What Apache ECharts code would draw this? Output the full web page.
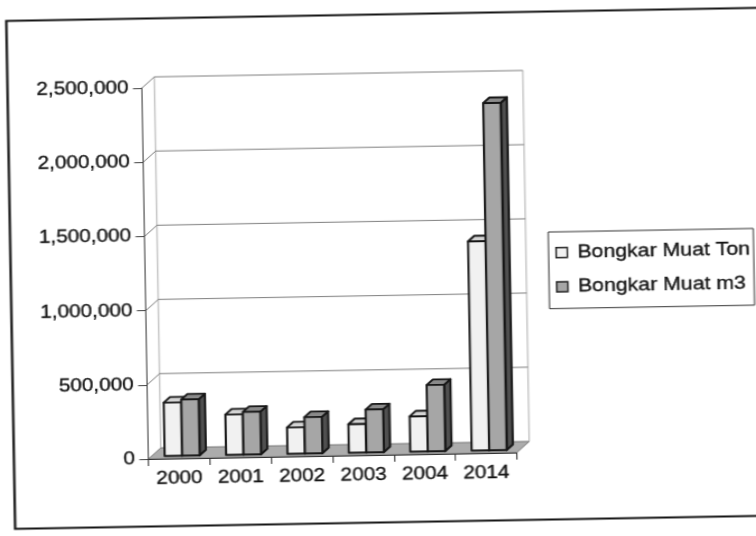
<!DOCTYPE html>
<html>
<head>
<meta charset="utf-8">
<script src="https://cdn.jsdelivr.net/npm/echarts@6/dist/echarts.min.js"></script>
<style>
  html, body { margin: 0; padding: 0; overflow: hidden; background: #fff; width: 756px; height: 536px; }
  /* the chart sheet sits slightly tilted and widened on the page */
  #chart {
    position: absolute; left: 0; top: 0; width: 720px; height: 560px;
    transform-origin: 0 0;
    transform: translate(378px, 268px) rotate(-1deg) scaleX(1.12) translate(-337.5px, -268px);
  }
</style>
</head>
<body>
<div id="chart"></div>
<script>
// Data
const years = ['2000', '2001', '2002', '2003', '2004', '2014'];
const tonValues = [360000, 272000, 178000, 192000, 238000, 1410000];
const m3Values = [378000, 287000, 245000, 289000, 447000, 2340000];
const seriesNames = ['Bongkar Muat Ton', 'Bongkar Muat m3'];
const yTicks = [0, 500000, 1000000, 1500000, 2000000, 2500000];

// 3D look: depth of the plot box and of each column (pixels)
const DEPTH_X = 11.3, DEPTH_Y = -11;
const BAR_FRAC = 0.285;
const FONT = "'Liberation Sans', Arial, sans-serif";
const OUTLINE = '#161616';
const TEXT = '#141414';

const faceColors = [
  { front: '#f1f1f1', top: '#d4d4d4', side: '#999999' },
  { front: '#a6a6a6', top: '#8a8a8a', side: '#505050' }
];

function fmt(v) {
  return String(v).replace(/\B(?=(\d{3})+(?!\d))/g, ',');
}

const labelText = {
  fontSize: 18.5, color: TEXT, fontFamily: FONT,
  textBorderColor: TEXT, textBorderWidth: 0.35
};

// floor, back wall and side wall of the 3D box
function frameRenderer(params, api) {
  const cs = params.coordSys;
  const x0 = cs.x, x1 = cs.x + cs.width;
  const y0 = api.coord([0, 0])[1];
  const yTop = api.coord([0, yTicks[yTicks.length - 1]])[1];
  const children = [];
  children.push({
    type: 'polygon',
    shape: { points: [[x0, y0], [x1, y0], [x1 + DEPTH_X, y0 + DEPTH_Y], [x0 + DEPTH_X, y0 + DEPTH_Y]] },
    style: { fill: '#acacac', stroke: '#777', lineWidth: 1 }
  });
  // back wall edges
  children.push({
    type: 'polyline',
    shape: { points: [[x0 + DEPTH_X, y0 + DEPTH_Y], [x0 + DEPTH_X, yTop + DEPTH_Y]] },
    style: { stroke: '#b0b0b0', lineWidth: 1, fill: null }
  });
  children.push({
    type: 'polyline',
    shape: { points: [[x1 + DEPTH_X, y0 + DEPTH_Y], [x1 + DEPTH_X, yTop + DEPTH_Y]] },
    style: { stroke: '#b0b0b0', lineWidth: 1, fill: null }
  });
  yTicks.forEach(function (t) {
    if (t === 0) return;
    const y = api.coord([0, t])[1];
    // gridline on the back wall
    children.push({
      type: 'line',
      shape: { x1: x0 + DEPTH_X, y1: y + DEPTH_Y, x2: x1 + DEPTH_X, y2: y + DEPTH_Y },
      style: { stroke: '#7e7e7e', lineWidth: 1 }
    });
    // gridline across the side wall
    children.push({
      type: 'line',
      shape: { x1: x0, y1: y, x2: x0 + DEPTH_X, y2: y + DEPTH_Y },
      style: { stroke: '#7e7e7e', lineWidth: 1 }
    });
  });
  return { type: 'group', children: children };
}

function barRenderer(sIdx) {
  return function (params, api) {
    const cat = api.value(0), val = api.value(1);
    const top = api.coord([cat, val]);
    const base = api.coord([cat, 0]);
    const catW = api.size([1, 0])[0];
    const bw = catW * BAR_FRAC;
    const ox = DEPTH_X * 0.25, oy = DEPTH_Y * 0.25;
    const bdx = DEPTH_X * 0.5, bdy = DEPTH_Y * 0.5;
    const xl = top[0] - bw + sIdx * bw + ox;
    const xr = xl + bw;
    const yT = top[1] + oy;
    const yB = base[1] + oy;
    const c = faceColors[sIdx];
    const st = { stroke: OUTLINE, lineWidth: 1.9, lineJoin: 'round' };
    return {
      type: 'group',
      children: [
        { type: 'polygon', shape: { points: [[xr, yT], [xr + bdx, yT + bdy], [xr + bdx, yB + bdy], [xr, yB]] },
          style: Object.assign({ fill: c.side }, st) },
        { type: 'polygon', shape: { points: [[xl, yT], [xr, yT], [xr + bdx, yT + bdy], [xl + bdx, yT + bdy]] },
          style: Object.assign({ fill: c.top }, st) },
        { type: 'rect', shape: { x: xl, y: yT, width: bw, height: yB - yT },
          style: Object.assign({ fill: c.front }, st) }
      ]
    };
  };
}

const chart = echarts.init(document.getElementById('chart'), null, { renderer: 'canvas' });

chart.setOption({
  animation: false,
  backgroundColor: 'transparent',
  textStyle: { fontFamily: FONT },
  graphic: [{
    type: 'rect', silent: true, z: -10,
    shape: { x: 9.5, y: 14.5, width: 900, height: 508 },
    style: { fill: '#fff', stroke: '#151515', lineWidth: 2.2 }
  }],
  grid: { left: 129.5, top: 84, width: 329, height: 371 },
  legend: {
    orient: 'vertical', left: 490, top: 235,
    padding: [11, 3, 12, 6], itemGap: 15, itemWidth: 10, itemHeight: 10,
    borderColor: '#333', borderWidth: 1, icon: 'rect',
    textStyle: Object.assign({ padding: [0, 0, 0, 4] }, labelText, { fontSize: 19 }),
    data: [
      { name: seriesNames[0], itemStyle: { color: faceColors[0].front, borderColor: '#222', borderWidth: 1.4 } },
      { name: seriesNames[1], itemStyle: { color: faceColors[1].front, borderColor: '#222', borderWidth: 1.4 } }
    ]
  },
  xAxis: {
    type: 'category', data: years, boundaryGap: true, z: 5,
    axisLine: { show: true, lineStyle: { color: '#333', width: 1 } },
    axisTick: { show: true, length: 7, lineStyle: { color: '#333' } },
    axisLabel: Object.assign({ margin: 10 }, labelText),
    splitLine: { show: false }
  },
  yAxis: {
    type: 'value', min: 0, max: yTicks[yTicks.length - 1], interval: yTicks[1] - yTicks[0], z: 5,
    axisLine: { show: true, lineStyle: { color: '#444', width: 1 } },
    axisTick: { show: true, length: 8, lineStyle: { color: '#444' } },
    axisLabel: Object.assign({ margin: 12, formatter: fmt }, labelText),
    splitLine: { show: false }
  },
  series: [
    {
      type: 'custom', name: 'frame', silent: true, z: 1,
      renderItem: frameRenderer,
      data: [[0, 0]], encode: { x: 0, y: 1 }
    },
    {
      type: 'custom', name: seriesNames[0], z: 2,
      itemStyle: { color: faceColors[0].front },
      renderItem: barRenderer(0),
      data: years.map(function (y, i) { return [i, tonValues[i]]; }),
      encode: { x: 0, y: 1 }
    },
    {
      type: 'custom', name: seriesNames[1], z: 2,
      itemStyle: { color: faceColors[1].front },
      renderItem: barRenderer(1),
      data: years.map(function (y, i) { return [i, m3Values[i]]; }),
      encode: { x: 0, y: 1 }
    }
  ]
});
</script>
</body>
</html>
